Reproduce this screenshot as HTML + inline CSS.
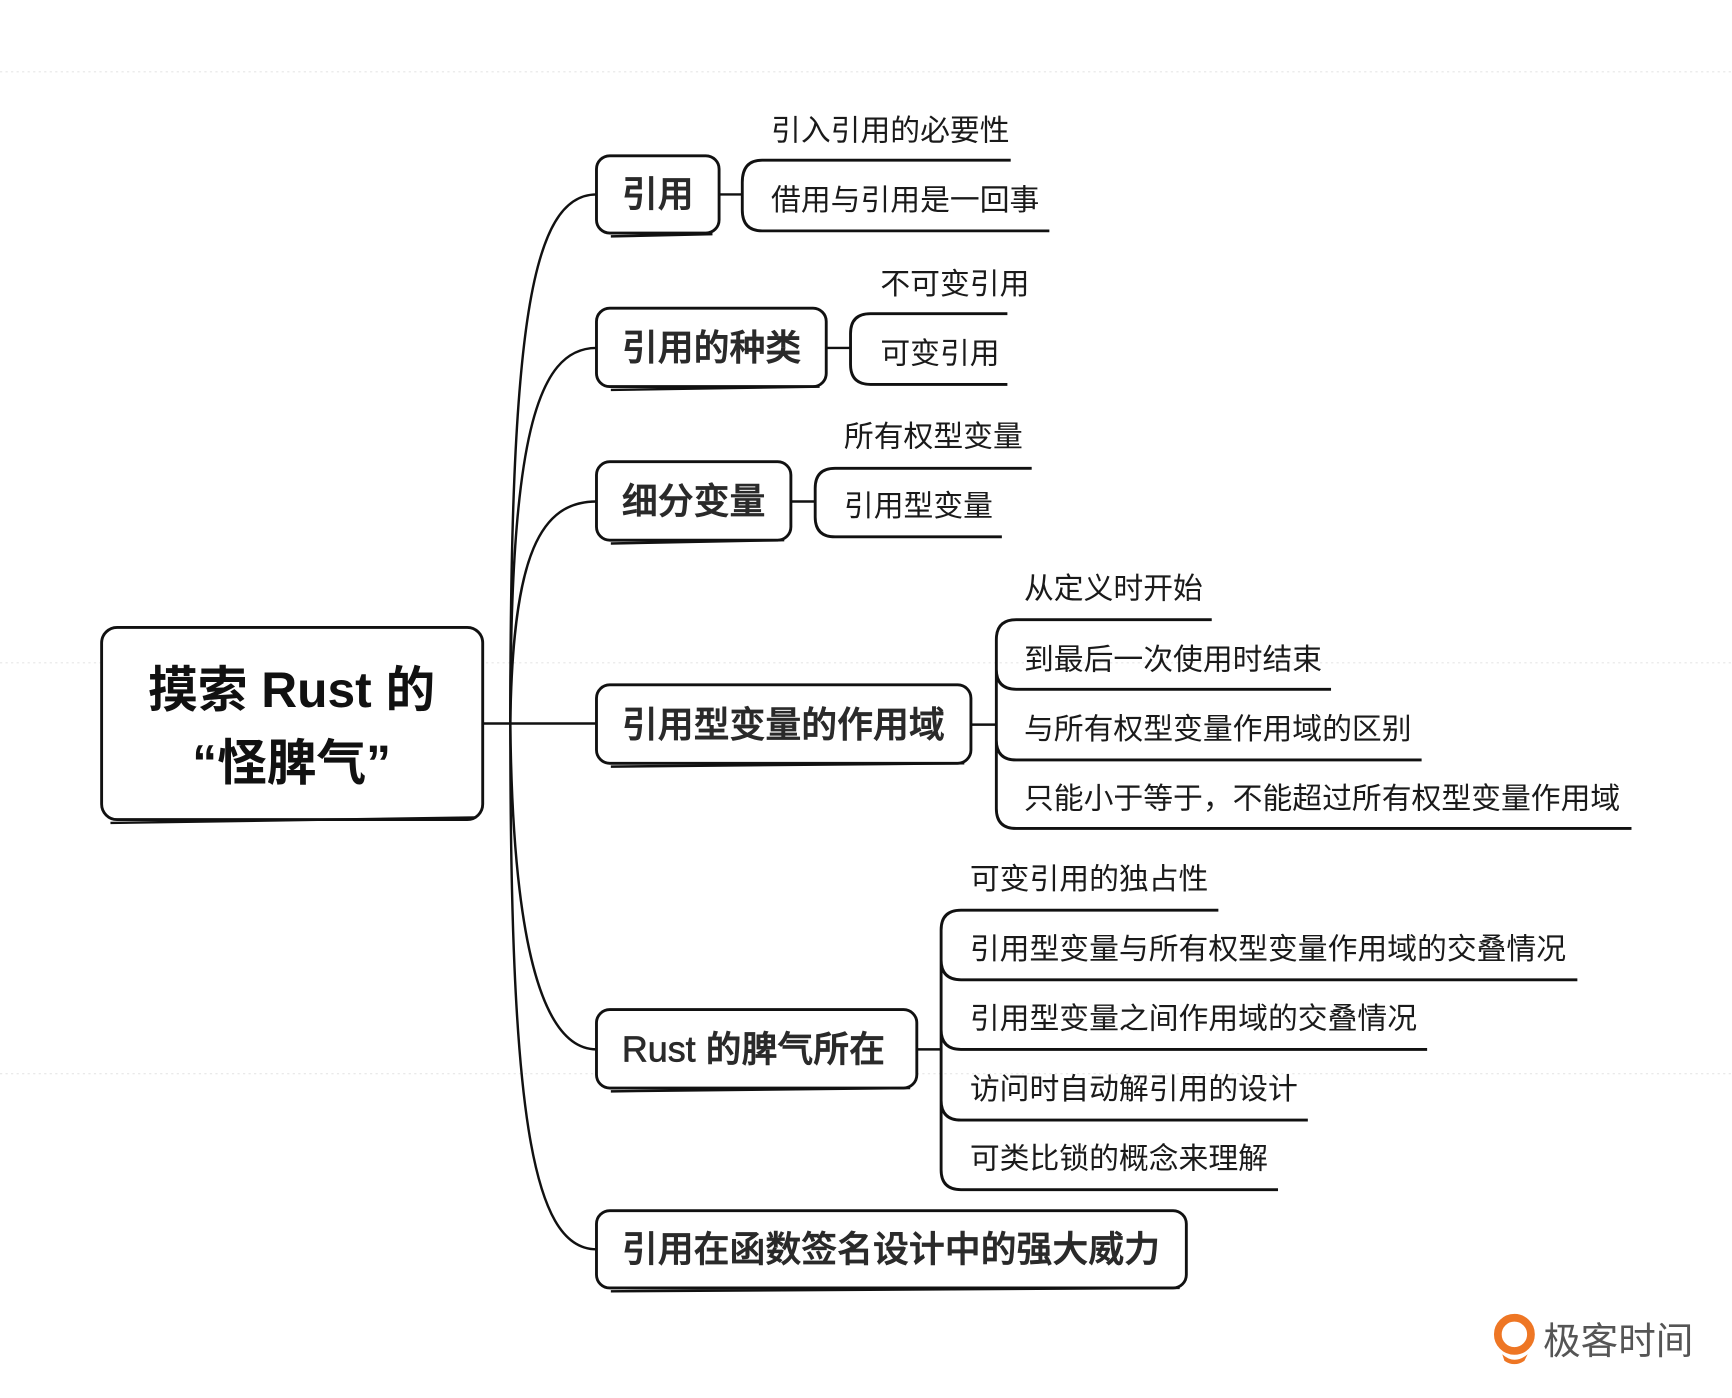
<!DOCTYPE html>
<html><head><meta charset="utf-8"><style>
html,body{margin:0;padding:0;background:#fff;}
svg{display:block;}
text{font-family:"Liberation Sans","Noto Sans CJK SC",sans-serif;fill:#1a1a1a;}
.b{font-size:32.5px;font-weight:500;fill:#2a2a2a;stroke:#2a2a2a;stroke-width:0.6;}
.l{font-size:27px;}
.bx{fill:#fff;stroke:#111;stroke-width:2.6;}
.ln{fill:none;stroke:#111;stroke-width:2.2;}
.ul{fill:none;stroke:#111;stroke-width:2.6;}
.wm{fill:none;stroke:#e6e6e6;stroke-width:1;stroke-dasharray:2 3;}
</style></head><body>
<svg width="1732" height="1398" viewBox="0 0 1568 1265.6" xmlns="http://www.w3.org/2000/svg">
<rect width="1568" height="1266" fill="#fff"/>
<line class="wm" x1="0" y1="65" x2="1568" y2="65"/>
<line class="wm" x1="0" y1="600" x2="1568" y2="600"/>
<line class="wm" x1="0" y1="972" x2="1568" y2="972"/>

<path class="ln" d="M437,655 L540,655"/>
<path class="ln" d="M462,655 C462,300 480,176 540,176"/>
<path class="ln" d="M462,655 C462,400 485,315 540,315"/>
<path class="ln" d="M462,655 C464,500 490,454 540,454"/>
<path class="ln" d="M462,655 C464,850 490,950 540,950"/>
<path class="ln" d="M462,655 C462,1000 480,1131 540,1131"/>

<rect class="bx" x="92" y="568" width="345" height="174" rx="14"/>
<path class="ln" d="M100,745 L430,740"/>
<text x="264" y="640" text-anchor="middle" style="font-size:45px;font-weight:bold;fill:#111">摸索 Rust 的</text>
<text x="264" y="706" text-anchor="middle" style="font-size:45px;font-weight:bold;fill:#111">“怪脾气”</text>

<rect class="bx" x="540" y="141" width="111" height="70" rx="12"/><path class="ln" d="M553,214 L645,212"/>
<text class="b" x="563" y="187">引用</text>
<rect class="bx" x="540" y="279" width="208" height="71" rx="12"/><path class="ln" d="M553,353 L742,350"/>
<text class="b" x="563" y="326">引用的种类</text>
<rect class="bx" x="540" y="418" width="176" height="71" rx="12"/><path class="ln" d="M553,492 L710,489"/>
<text class="b" x="563" y="465">细分变量</text>
<rect class="bx" x="540" y="620" width="339" height="71" rx="12"/><path class="ln" d="M553,694 L873,691"/>
<text class="b" x="563" y="667">引用型变量的作用域</text>
<rect class="bx" x="540" y="914" width="290" height="71" rx="12"/><path class="ln" d="M553,988 L824,985"/>
<text class="b" x="563" y="961">Rust 的脾气所在</text>
<rect class="bx" x="540" y="1096" width="534" height="70" rx="12"/><path class="ln" d="M553,1169 L1068,1166"/>
<text class="b" x="563" y="1142">引用在函数签名设计中的强大威力</text>

<path class="ln" d="M651,176 L672,176"/>
<path class="ul" d="M690,145 L915,145 M690,145 Q672,145 672,165 L672,190 Q672,209 690,209 L950,209"/>
<text class="l" x="698" y="127">引入引用的必要性</text>
<text class="l" x="698" y="190">借用与引用是一回事</text>

<path class="ln" d="M748,315 L770,315"/>
<path class="ul" d="M788,284 L912,284 M788,284 Q770,284 770,302 L770,330 Q770,348 788,348 L912,348"/>
<text class="l" x="797" y="266">不可变引用</text>
<text class="l" x="797" y="329">可变引用</text>

<path class="ln" d="M716,454 L738,454"/>
<path class="ul" d="M756,424 L934,424 M756,424 Q738,424 738,442 L738,468 Q738,486 756,486 L907,486"/>
<text class="l" x="764" y="404">所有权型变量</text>
<text class="l" x="764" y="467">引用型变量</text>

<path class="ln" d="M879,656 L902,656"/>
<path class="ul" d="M920,561 L1097,561 M920,561 Q902,561 902,579 L902,732 Q902,750 920,750 L1477,750 M902,606 Q902,624 920,624 L1205,624 M902,670 Q902,688 920,688 L1287,688"/>
<text class="l" x="927" y="542">从定义时开始</text>
<text class="l" x="927" y="606">到最后一次使用时结束</text>
<text class="l" x="927" y="669">与所有权型变量作用域的区别</text>
<text class="l" x="927" y="732">只能小于等于，不能超过所有权型变量作用域</text>

<path class="ln" d="M830,950 L852,950"/>
<path class="ul" d="M870,824 L1103,824 M870,824 Q852,824 852,842 L852,1059 Q852,1077 870,1077 L1157,1077 M852,869 Q852,887 870,887 L1428,887 M852,932 Q852,950 870,950 L1292,950 M852,996 Q852,1014 870,1014 L1184,1014"/>
<text class="l" x="878" y="805">可变引用的独占性</text>
<text class="l" x="878" y="868">引用型变量与所有权型变量作用域的交叠情况</text>
<text class="l" x="878" y="931">引用型变量之间作用域的交叠情况</text>
<text class="l" x="878" y="995">访问时自动解引用的设计</text>
<text class="l" x="878" y="1058">可类比锁的概念来理解</text>

<circle cx="1371" cy="1208" r="15" fill="none" stroke="#ee7624" stroke-width="7"/>
<path d="M1360,1226 Q1371,1236 1383,1226 L1380,1232 Q1371,1238 1362,1232 Z" fill="#ee7624"/>
<text x="1397" y="1226" style="font-size:34px;fill:#555">极客时间</text>
</svg>
</body></html>
